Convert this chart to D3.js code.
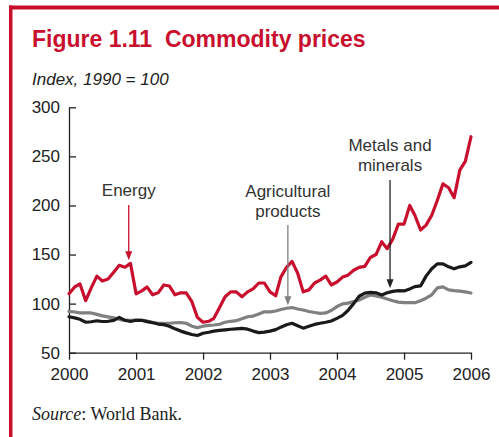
<!DOCTYPE html>
<html>
<head>
<meta charset="utf-8">
<script src="https://cdn.jsdelivr.net/npm/d3@7"></script>
<style>
  html, body { margin: 0; padding: 0; background: #fff; }
  svg { display: block; font-family: "Liberation Sans", Arial, Helvetica, sans-serif; }
</style>
</head>
<body>
<div id="chart"></div>
<script>
// Monthly index values, Jan 2000 .. Jan 2006 (1990 = 100)
const energy = [
  110, 117, 120, 103, 116, 128, 123, 125, 132, 139, 137, 141,
  110, 113, 117, 109, 111, 119, 118, 109, 111, 111, 102, 86,
  81, 82, 85, 96, 107, 112, 112, 107, 112, 115, 121, 121,
  112, 108, 127, 137, 143, 131, 112, 114, 121, 124, 128, 119,
  122, 127, 129, 134, 137, 138, 147, 150, 163, 156, 166, 181,
  181, 200, 190, 175, 180, 190, 205, 222, 218, 208, 236, 245,
  270
];
const agricultural = [
  92, 91.5, 90.5, 90.5, 90.5, 89, 87.5, 86.5, 85.5, 84, 83, 83,
  83.3, 83, 82.3, 81, 80, 80, 80, 80.5, 80.6, 80, 77, 75.5,
  77, 77.8, 78.2, 79, 81, 82, 82.6, 84.5, 86.6, 87.3, 89.5, 91.6,
  91.6, 92.5, 94, 95.3, 96, 94.5, 93.5, 92, 91, 90, 90.5, 93,
  97, 99.8, 100.5, 102, 103.7, 106.5, 108.8, 107.8, 106.5, 104.8, 103, 101.5,
  101, 101, 101, 103, 105.5, 109, 116, 117, 114, 113.3, 112.8, 112,
  110.8
];
const metals = [
  86.6, 85.5, 84, 81, 81.5, 82.5, 81.8, 82, 83, 86, 83, 81.8,
  83, 83, 81.7, 80.5, 79.2, 78.6, 77, 74.3, 72, 70.2, 68.5, 67.5,
  69.8, 70.8, 72, 72.7, 73.3, 73.9, 74.3, 74.8, 74, 72, 70.5, 71,
  72, 73.5, 76, 78.5, 80, 77.5, 75, 77, 78.8, 80, 81, 82.3,
  85, 88, 93, 100, 107.5, 110.7, 111.5, 111, 108.8, 111, 112.5, 113.3,
  112.9, 115, 117.3, 118, 128, 135.5, 140.5, 140.5, 137.5, 135.5, 137.5, 138.5,
  142
];
const months = d3.timeMonth.range(new Date(2000, 0, 1), new Date(2006, 0, 2));
const yTicks = [50, 100, 150, 200, 250, 300];
const yearTicks = d3.timeYear.range(new Date(2000, 0, 1), new Date(2006, 0, 2));

// label lines, month index the arrow points at, arrow top (px)
const notes = [
  { lines: ['Energy'], series: energy, month: 10.7, top: 205, textY: 196, color: '#c8102e' },
  { lines: ['Agricultural', 'products'], series: agricultural, month: 39.2, top: 225, textY: 197, color: '#808080' },
  { lines: ['Metals and', 'minerals'], series: metals, month: 57.5, top: 180, textY: 151, color: '#222' }
];

const width = 499, height = 437;
const red = '#c8102e';

const svg = d3.select('#chart').append('svg')
  .attr('width', width)
  .attr('height', height);

// frame: red rule on top and left
svg.append('rect').attr('x', 9).attr('y', 5.5).attr('width', width - 9).attr('height', 4).attr('fill', red);
svg.append('rect').attr('x', 9).attr('y', 5.5).attr('width', 3.5).attr('height', height).attr('fill', red);

svg.append('text')
  .attr('x', 32).attr('y', 47)
  .attr('fill', red)
  .style('font-size', '23px')
  .style('font-weight', 'bold')
  .style('white-space', 'pre')
  .text('Figure 1.11  Commodity prices');

svg.append('text')
  .attr('x', 32).attr('y', 85)
  .attr('fill', '#222')
  .style('font-size', '17px')
  .style('font-style', 'italic')
  .text('Index, 1990 = 100');

const x = d3.scaleTime()
  .domain([new Date(2000, 0, 1), new Date(2006, 0, 1)])
  .range([69, 471]);

const y = d3.scaleLinear()
  .domain([50, 300])
  .range([352.7, 107.3]);

const xAxis = svg.append('g')
  .attr('transform', `translate(0,${y(50)})`)
  .call(d3.axisBottom(x).tickValues(yearTicks).tickFormat(d3.timeFormat('%Y'))
    .tickSize(7).tickSizeOuter(0).tickPadding(8));

const yAxis = svg.append('g')
  .attr('transform', `translate(${x(months[0])},0)`)
  .call(d3.axisLeft(y).tickValues(yTicks).tickSize(-7).tickSizeOuter(0).tickPadding(9));

[xAxis, yAxis].forEach(g => {
  g.selectAll('path, line').attr('stroke', '#222').attr('stroke-width', 1.3);
  g.selectAll('text').attr('fill', '#222').style('font-size', '17px');
});

// month index -> date for fractional positions
const monthX = m => x(new Date(2000, 0, 1)) + (x(new Date(2006, 0, 1)) - x(new Date(2000, 0, 1))) * m / 72;

const line = d3.line()
  .x((d, i) => x(months[i]))
  .y(d => y(d))
  .curve(d3.curveLinear);

[[agricultural, '#808080'], [metals, '#1a1a1a'], [energy, red]].forEach(([data, color]) => {
  svg.append('path')
    .datum(data)
    .attr('fill', 'none')
    .attr('stroke', color)
    .attr('stroke-width', 3.2)
    .attr('stroke-linejoin', 'round')
    .attr('stroke-linecap', 'round')
    .attr('d', line);
});

// annotations
notes.forEach(n => {
  const ax = monthX(n.month);
  const i = Math.round(n.month);
  const tipY = y(n.series[i]) - 3;
  n.lines.forEach((t, k) => {
    svg.append('text')
      .attr('x', ax)
      .attr('y', n.textY + k * 20)
      .attr('text-anchor', 'middle')
      .attr('fill', '#333')
      .style('font-size', '17px')
      .text(t);
  });
  svg.append('line')
    .attr('x1', ax).attr('x2', ax)
    .attr('y1', n.top).attr('y2', tipY - 5)
    .attr('stroke', n.color)
    .attr('stroke-width', 1.3);
  svg.append('path')
    .attr('d', `M${ax - 3.5},${tipY - 9} L${ax + 3.5},${tipY - 9} L${ax},${tipY} Z`)
    .attr('fill', n.color);
});

const src = svg.append('text')
  .attr('x', 32).attr('y', 420)
  .attr('fill', '#222')
  .style('font-family', '"Liberation Serif", "Times New Roman", serif')
  .style('font-size', '18px');
src.append('tspan').style('font-style', 'italic').text('Source');
src.append('tspan').text(': World Bank.');
</script>
</body>
</html>
